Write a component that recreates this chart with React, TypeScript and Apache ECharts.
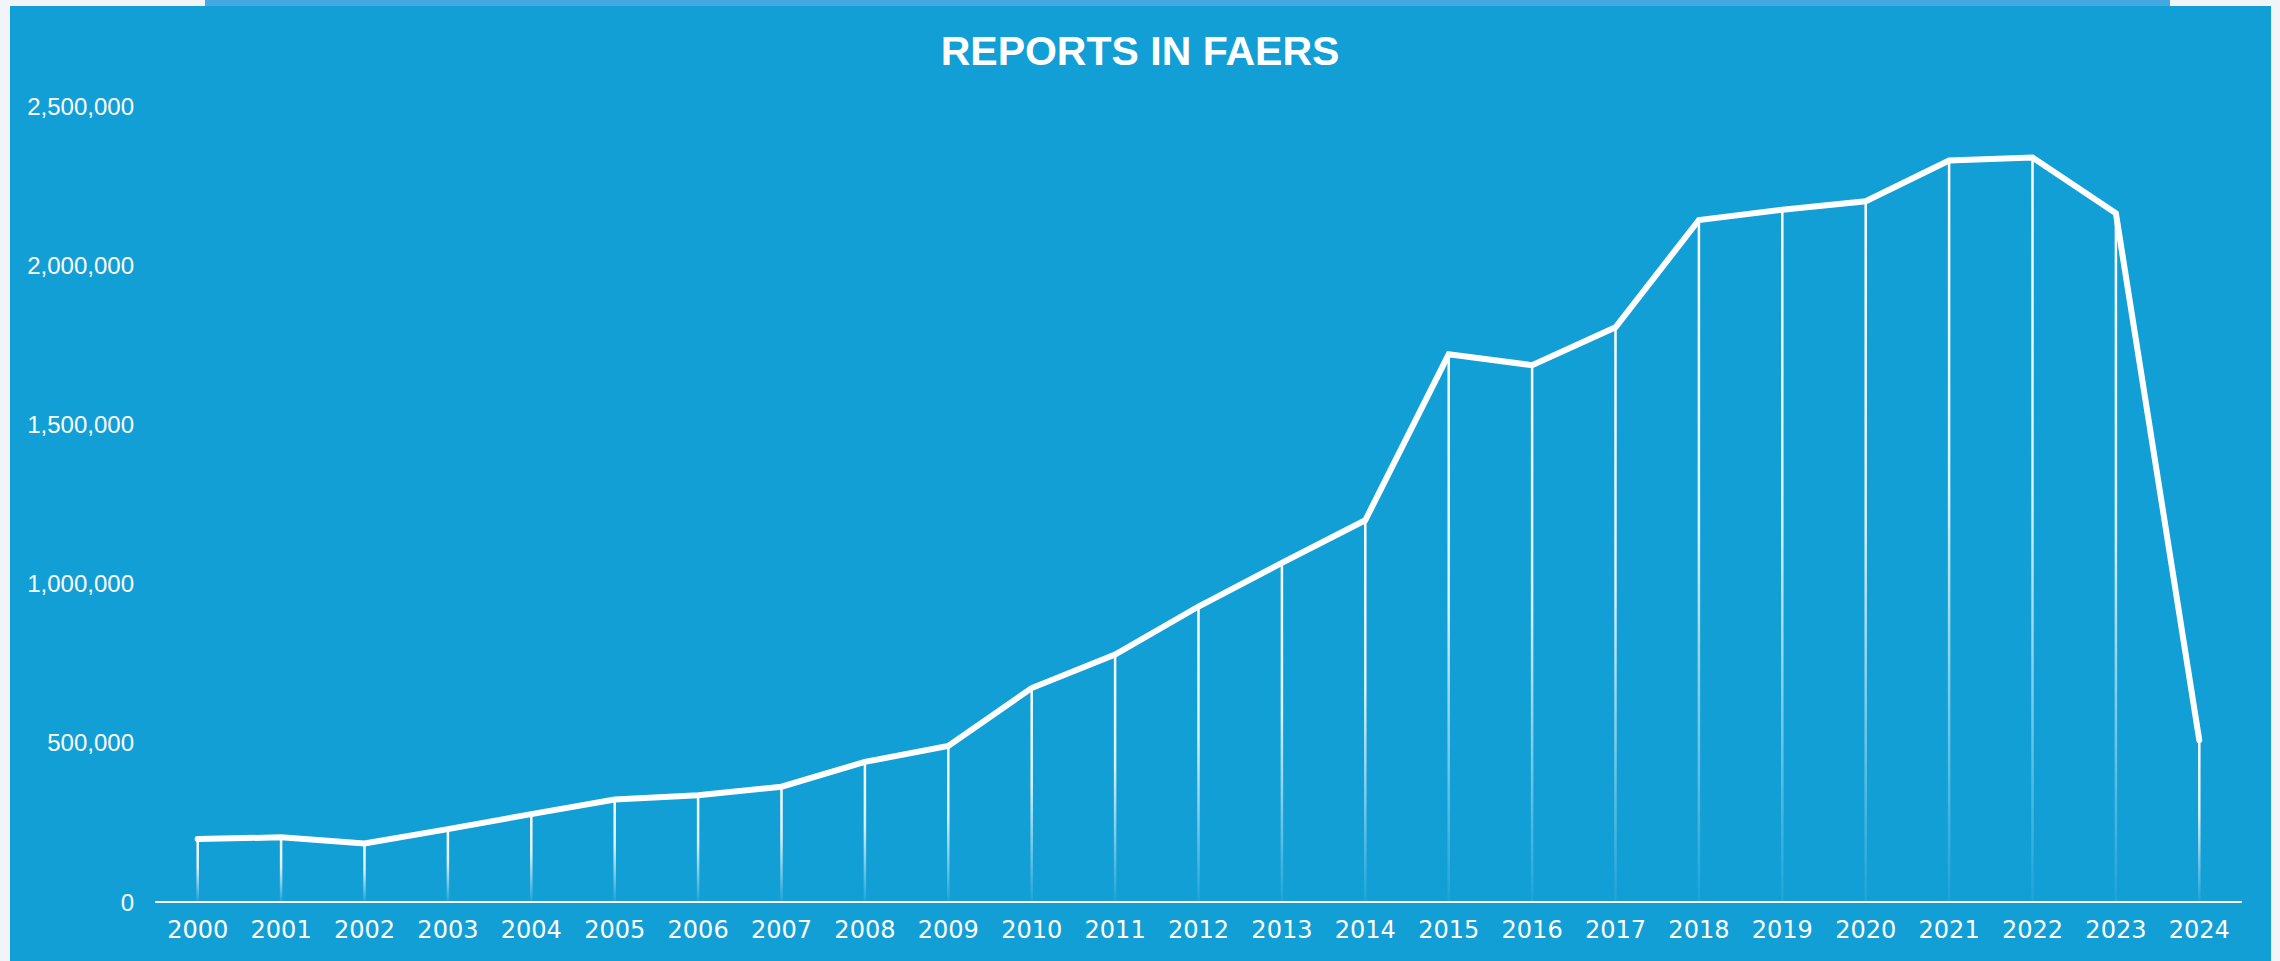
import React, { useEffect, useRef } from "react";
import * as echarts from "echarts";

const years = [
  "2000", "2001", "2002", "2003", "2004", "2005", "2006", "2007", "2008", "2009",
  "2010", "2011", "2012", "2013", "2014", "2015", "2016", "2017", "2018", "2019",
  "2020", "2021", "2022", "2023", "2024",
];

const reports = [
  198000, 203000, 184000, 229000, 276000, 322000, 335000, 362000, 440000, 490000,
  672000, 777000, 928000, 1065000, 1199000, 1720000, 1686000, 1805000, 2142000, 2174000,
  2201000, 2329000, 2338000, 2163000, 508000,
];

const yTicks = [0, 500000, 1000000, 1500000, 2000000, 2500000];

const title = "REPORTS IN FAERS";

export default function App() {
  const ref = useRef<HTMLDivElement>(null);

  useEffect(() => {
    if (!ref.current) return;
    const chart = echarts.init(ref.current, null, { renderer: "svg" });
    chart.setOption({
      animation: false,
      backgroundColor: "transparent",
      title: {
        text: title,
        left: "center",
        top: 30,
        textStyle: {
          color: "#ffffff",
          fontFamily: "Liberation Sans",
          fontWeight: "bold",
          fontSize: 41,
        },
        padding: 0,
      },
      grid: { left: 156, right: 39, top: 106, bottom: 59 },
      xAxis: {
        type: "category",
        data: years,
        boundaryGap: true,
        axisLine: { show: true, lineStyle: { color: "#ffffff", width: 2 } },
        axisTick: { show: false },
        axisLabel: {
          color: "#ffffff",
          fontFamily: "DejaVu Sans",
          fontSize: 24,
          margin: 16,
        },
        splitLine: { show: false },
      },
      yAxis: {
        type: "value",
        min: yTicks[0],
        max: yTicks[yTicks.length - 1],
        interval: 500000,
        axisLine: { show: false },
        axisTick: { show: false },
        splitLine: { show: false },
        axisLabel: {
          color: "#ffffff",
          fontFamily: "Liberation Sans",
          fontSize: 24,
          margin: 22,
          formatter: (v: number) => v.toLocaleString("en-US"),
        },
      },
      series: [
        {
          type: "bar",
          data: reports,
          barWidth: 2.5,
          silent: true,
          z: 1,
          itemStyle: {
            color: new echarts.graphic.LinearGradient(0, 0, 0, 1, [
              { offset: 0, color: "rgba(255,255,255,1)" },
              { offset: 0.45, color: "rgba(255,255,255,0.85)" },
              { offset: 1, color: "rgba(255,255,255,0.05)" },
            ]),
          },
        },
        {
          type: "line",
          data: reports,
          symbol: "none",
          z: 3,
          lineStyle: { color: "#ffffff", width: 6, cap: "round", join: "miter" },
        },
      ],
    });
    return () => chart.dispose();
  }, []);

  return (
    <div style={{ position: "fixed", left: 0, top: 0, width: 2280, height: 961, background: "#f1f4f8", overflow: "hidden" }}>
      <div style={{ position: "absolute", left: 10, top: 6, width: 2261, height: 955, background: "#119fd6" }} />
      <div style={{ position: "absolute", left: 205, top: 0, width: 1965, height: 6, background: "#44a9e1" }} />
      <div ref={ref} style={{ position: "absolute", left: 0, top: 0, width: 2280, height: 961 }} />
    </div>
  );
}
